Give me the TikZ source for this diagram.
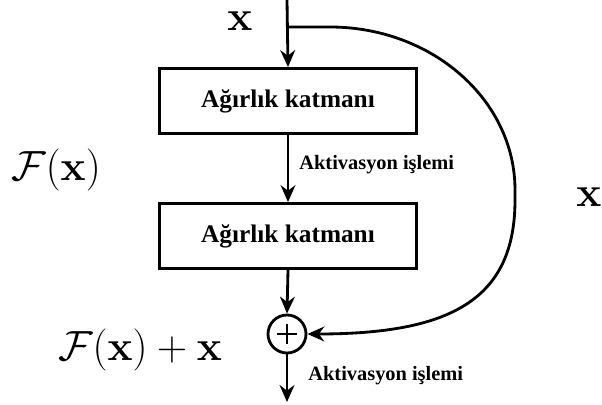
\RequirePackage{fix-cm}
\documentclass[tikz,border=0pt]{standalone}
\usepackage{amsmath}
\usepackage[no-math]{fontspec}
\setmainfont{Liberation Serif}
\usetikzlibrary{arrows.meta, positioning}

\begin{document}
\begin{tikzpicture}[x=0.025cm, y=-0.025cm, line width=2pt,
      arr/.style={-{Stealth[length=12pt, width=10.5pt]}},
      layer/.style={draw, minimum width=6.425cm, minimum height=1.625cm, font=\fontsize{18}{20}\selectfont\bfseries, inner sep=0pt},
      act/.style={anchor=west, font=\fontsize{14.5}{16}\selectfont\bfseries, inner sep=0pt},
      big/.style={font=\fontsize{30}{34}\selectfont, inner sep=0pt}]
      \useasboundingbox (0,0) rectangle (602,405);
      \coordinate (in) at (287,0);
      \coordinate (split) at (287,27);
      \coordinate (out) at (287,402);
      \node[big] (xin) at (240,21) {$\mathbf{x}$};
      \node[layer] (w1) at (288,101) {Ağırlık katmanı};
      \node[layer] (w2) at (288,236) {Ağırlık katmanı};
      \node[draw, circle, minimum size=0.95cm, inner sep=0pt] (plus) at (287,334) {};
      \draw (plus.center) ++(-10,0) -- ++(20,0);
      \draw (plus.center) ++(0,-10) -- ++(0,20);

      \draw[arr] (in) -- (w1.north);
      \draw[arr] (w1.south) -- (w2.north);
      \draw[arr] (w2.south) -- (plus.north);
      \draw[arr] (plus.south) -- (out);
      % shortcut
      \draw[arr] (split) -- (330,27) .. controls (432,27) and (515,100) .. (515,190)
        -- (515,200) .. controls (515,300) and (450,334) .. (plus.east);

      \node[act] (a1) at (298,165) {Aktivasyon işlemi};
      \node[act] (a2) at (307,376) {Aktivasyon işlemi};
      \node[big] (fx) at (56,170) {$\mathcal{F}(\mathbf{x})$};
      \node[big] (fxx) at (140,350) {$\mathcal{F}(\mathbf{x})+\mathbf{x}$};
      \node[big] (xr) at (589,197) {$\mathbf{x}$};
\end{tikzpicture}
\end{document}
